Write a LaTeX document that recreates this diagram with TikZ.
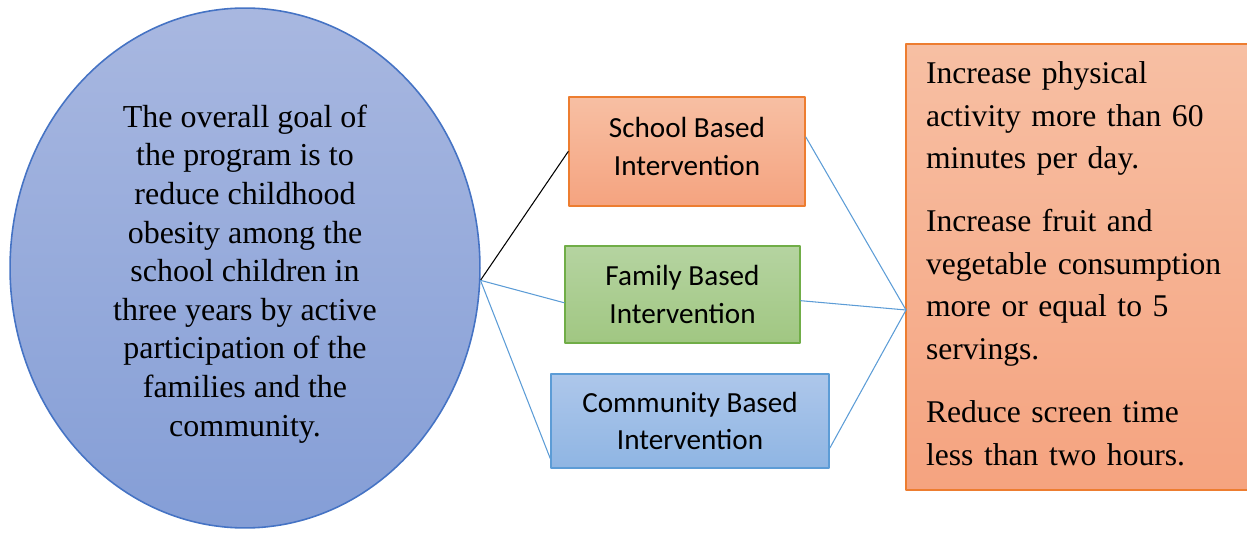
\documentclass[tikz,border=0pt]{standalone}
\usepackage{fontspec}
\setmainfont{Liberation Serif}
\newfontfamily\calibri{Carlito}
\usepackage{tikz}
\usetikzlibrary{shapes.geometric}
\definecolor{aab8e0}{rgb}{0.66,0.72,0.88}
\definecolor{849dd6}{rgb}{0.52,0.62,0.84}
\definecolor{4472c4}{rgb}{0.27,0.45,0.77}
\definecolor{f7bea4}{rgb}{0.97,0.75,0.64}
\definecolor{f4a47f}{rgb}{0.96,0.64,0.50}
\definecolor{ed7d31}{rgb}{0.93,0.49,0.19}
\definecolor{b5d4a0}{rgb}{0.71,0.83,0.63}
\definecolor{a0c882}{rgb}{0.63,0.78,0.51}
\definecolor{70ad47}{rgb}{0.44,0.68,0.28}
\definecolor{aec8ea}{rgb}{0.68,0.78,0.92}
\definecolor{90b6e2}{rgb}{0.56,0.71,0.89}
\definecolor{5b9bd5}{rgb}{0.36,0.61,0.84}
\tikzset{
  box/.style={rectangle,line width=0.9pt,inner sep=0pt,align=center,
    font=\calibri\fontsize{16.6}{21.6}\selectfont},
  link/.style={color=5b9bd5,line width=0.6pt}
}

\begin{document}
\begin{tikzpicture}[line cap=round,line join=round,x=0.02cm,y=-0.02cm]
\useasboundingbox (0,0) rectangle (1247,536);

% goal of the program
\node[ellipse,draw=4472c4,line width=0.9pt,top color=aab8e0,bottom color=849dd6,
  minimum width=9.4cm,minimum height=10.4cm,inner sep=0pt,align=center,
  font=\fontsize{18.2}{22}\selectfont] (goal) at (245,268)
  {\rule{0pt}{19.5pt}The overall goal of\\the program is to\\reduce childhood\\obesity among the\\
   school children in\\three years by active\\participation of the\\
   families and the\\community.};

% the three interventions
\node[box,draw=ed7d31,top color=f7bea4,bottom color=f4a47f,
  minimum width=4.72cm,minimum height=2.18cm] (school) at (687,151.5)
  {School Based\\Intervention\rule[-5.7pt]{0pt}{0pt}};
\node[box,draw=70ad47,top color=b5d4a0,bottom color=a0c882,
  minimum width=4.7cm,minimum height=1.94cm] (family) at (682.5,294.5)
  {Family Based\\Intervention};
\node[box,draw=5b9bd5,top color=aec8ea,bottom color=90b6e2,
  minimum width=5.56cm,minimum height=1.88cm] (community) at (690,421)
  {Community Based\\Intervention};

% objectives
\node[rectangle,draw=ed7d31,line width=0.9pt,top color=f7bea4,bottom color=f4a47f,
  minimum width=6.92cm,minimum height=8.92cm,inner xsep=0.4cm,
  text width=6.12cm,align=left,
  font=\fontsize{18}{24.2}\selectfont] (aims) at (1079,267)
  {Increase physical\\activity more than 60\\minutes per day.\\[11.7pt]
   Increase fruit and\\vegetable consumption\\more or equal to 5\\servings.\\[11.7pt]
   Reduce screen time\\less than two hours.\rule[-4pt]{0pt}{0pt}};

\coordinate (hub) at (906,310);

\draw[line width=0.6pt] (goal.-3) -- (school.west);
\draw[link] (goal.-3) -- (family.-176);
\draw[link] (goal.-3) -- (community.-165);
\draw[link] (school.7) -- (hub);
\draw[link] (family.-3) -- (hub);
\draw[link] (community.-11) -- (hub);

\end{tikzpicture}
\end{document}
